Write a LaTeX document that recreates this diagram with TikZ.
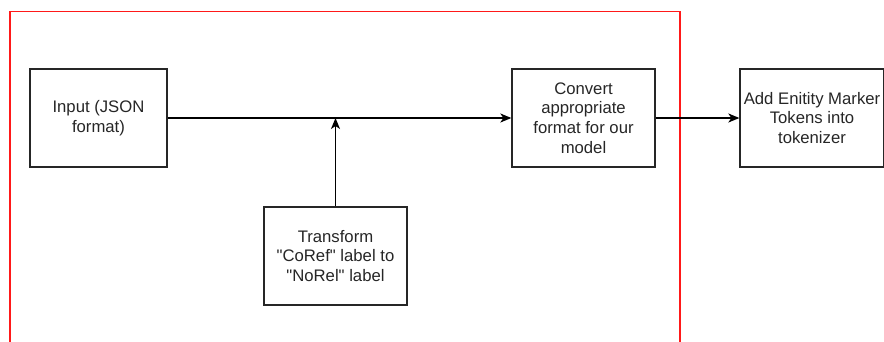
\documentclass[tikz,border=0pt]{standalone}
\usepackage{fontspec}
\setmainfont{Liberation Sans}[Ligatures=TeXOff]
\usetikzlibrary{arrows.meta}
\begin{document}
\begin{tikzpicture}[x=1pt,y=-1pt,
  box/.style={draw=black!85,line width=1.3pt,align=center,inner sep=0pt,
    font=\fontsize{16.7}{19.7}\selectfont,text=black!85},
  conn/.style={draw=black,line width=1.3pt,-{Stealth[length=11pt,width=9pt,inset=3pt]}}]
\useasboundingbox (0,0) rectangle (884,341);
\clip (0,0) rectangle (884,341);
\draw[red!90!white,line width=1.5pt] (10,11.5) rectangle (680,360);
\node[box,minimum width=137pt,minimum height=98pt] (input) at (98.5,118) {Input (JSON\\format)};
\node[box,minimum width=143pt,minimum height=98pt] (convert) at (583.5,118) {Convert\\appropriate\\format for our\\model};
\node[box,minimum width=144pt,minimum height=98pt] (add) at (812,118) {Add Enitity Marker\\Tokens into\\tokenizer};
\node[box,minimum width=143pt,minimum height=98pt] (transform) at (335.5,256) {Transform\\"CoRef" label to\\"NoRel" label};
\coordinate (join) at (335.5,118);
\draw[conn] (input.east) -- (convert.west);
\draw[conn] (transform.north) -- (join);
\draw[conn] (convert.east) -- (add.west);
\end{tikzpicture}
\end{document}
